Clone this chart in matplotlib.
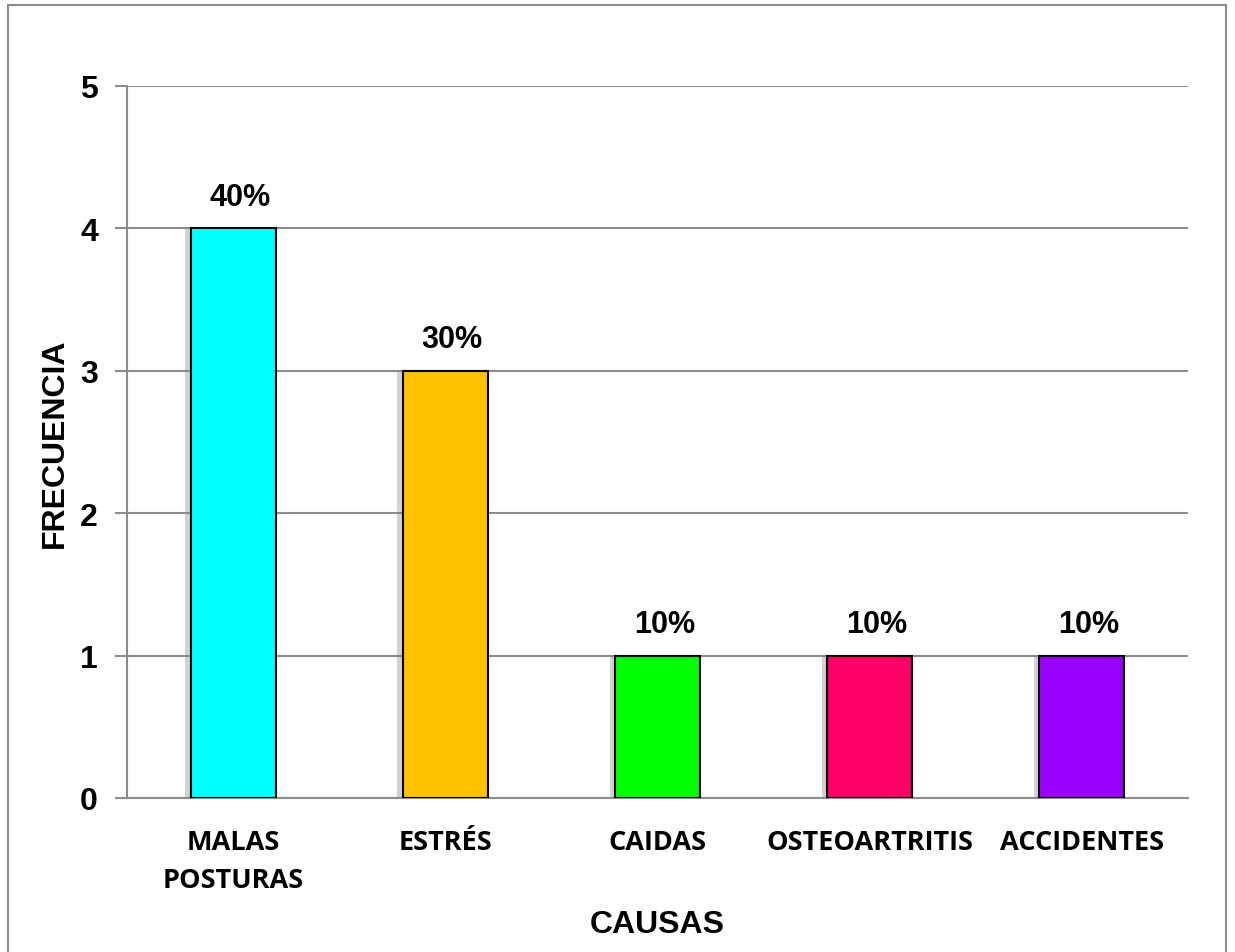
import matplotlib
matplotlib.use("Agg")
import matplotlib.pyplot as plt
import matplotlib.patheffects as pe
from matplotlib.patches import Rectangle

# Causas de dolor lumbar y su frecuencia
causas = ["MALAS\nPOSTURAS", "ESTRÉS", "CAIDAS", "OSTEOARTRITIS", "ACCIDENTES"]
frecuencia = [4, 3, 1, 1, 1]
porcentajes = ["40%", "30%", "10%", "10%", "10%"]
colores = ["#00FFFF", "#FFC000", "#00FF00", "#FF0066", "#9900FF"]

fig = plt.figure(figsize=(12.35, 9.53), dpi=100)
ax = fig.add_axes([127 / 1235, 1 - 799 / 953, (1188 - 127) / 1235, (799 - 87) / 953])

x = range(len(causas))
bars = ax.bar(x, frecuencia, width=0.4, color=colores, edgecolor="black", linewidth=1.5,
              zorder=3)
for b in bars:
    b.set_path_effects([pe.SimplePatchShadow(offset=(-4, 0), shadow_rgbFace="gray", alpha=0.35),
                        pe.Normal()])

# etiquetas de porcentaje sobre cada barra
for b, p in zip(bars, porcentajes):
    ax.annotate(p, (b.get_x() + b.get_width() / 2, b.get_height()), xytext=(5, 12),
                textcoords="offset points", ha="center", va="bottom",
                fontsize=22, fontweight="bold", family="Liberation Sans")

ax.set_xlim(-0.5, 4.5)
ax.set_ylim(0, 5)
ax.set_yticks(range(6))
ax.yaxis.grid(True, color="#8c8c8c", linewidth=1.5, zorder=0)
ax.set_axisbelow(True)

for s in ["top", "right"]:
    ax.spines[s].set_visible(False)
for s in ["left", "bottom"]:
    ax.spines[s].set_color("#8c8c8c")
    ax.spines[s].set_linewidth(1.5)

ax.tick_params(axis="y", length=9, width=1.5, color="#8c8c8c", pad=12)
ax.tick_params(axis="x", length=0, pad=22)
ax.set_xticks(list(x))
ax.set_xticklabels(causas, fontsize=19.5, fontweight="bold", family="Open Sans", linespacing=1.6)
for lbl in ax.get_yticklabels():
    lbl.set_fontsize(23)
    lbl.set_fontweight("bold")
    lbl.set_family("Liberation Sans")

fig.text(55 / 1235, 1 - 443 / 953, "FRECUENCIA", rotation=90, ha="center", va="center",
         fontsize=23, fontweight="bold", family="Liberation Sans")
fig.text(657 / 1235, 1 - 925 / 953, "CAUSAS", ha="center", va="center",
         fontsize=23, fontweight="bold", family="Liberation Sans")

# marco exterior del gráfico
fig.patches.append(Rectangle((8 / 1235, -0.02), (1226 - 8) / 1235, 1 - 6 / 953 + 0.02,
                             transform=fig.transFigure, fill=False, edgecolor="#8c8c8c",
                             linewidth=1.5))

fig.savefig("out.png", dpi=100)
